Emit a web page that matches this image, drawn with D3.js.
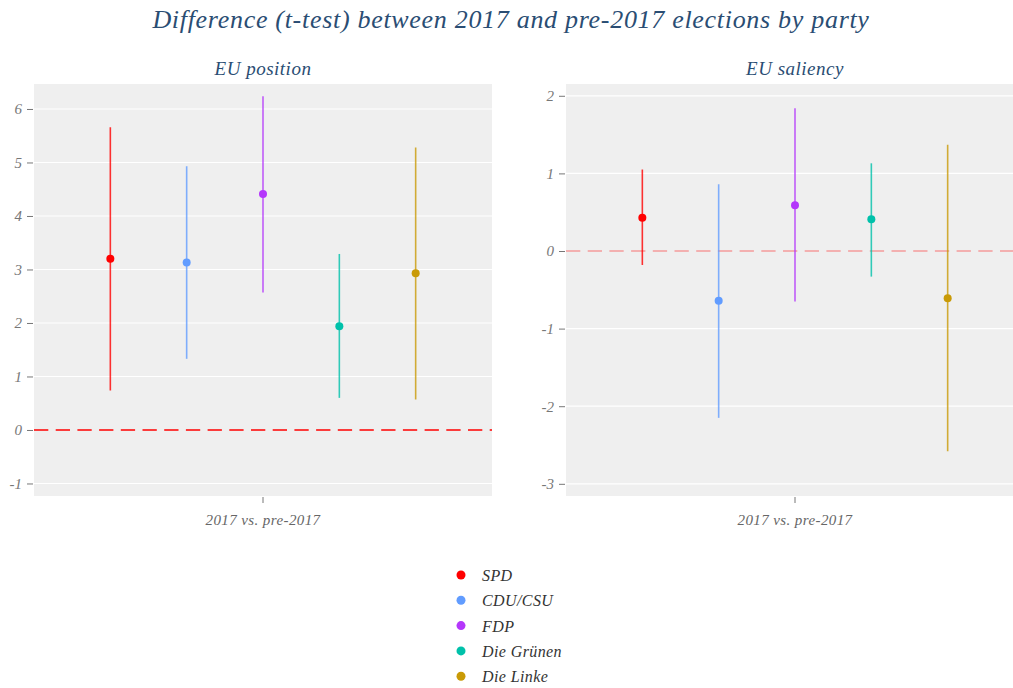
<!DOCTYPE html>
<html>
<head>
<meta charset="utf-8">
<script src="https://cdn.jsdelivr.net/npm/d3@7"></script>
<style>
  html, body { margin: 0; padding: 0; background: #fff; }
  svg { display: block; }
  text { font-family: "Liberation Serif", "DejaVu Serif", serif; font-style: italic; }
</style>
</head>
<body>
<script>
// Parties and their colours
const parties = ["SPD", "CDU/CSU", "FDP", "Die Grünen", "Die Linke"];
const partyColors = ["#ff0000", "#619cff", "#b437fb", "#00c1aa", "#c99a06"];

// EU position: mean difference with 95% confidence interval
const posMean = [3.20, 3.13, 4.41, 1.94, 2.93];
const posLow  = [0.74, 1.33, 2.57, 0.60, 0.57];
const posHigh = [5.66, 4.93, 6.24, 3.29, 5.28];

// EU saliency: mean difference with 95% confidence interval
const salMean = [0.43, -0.64, 0.59, 0.41, -0.61];
const salLow  = [-0.18, -2.15, -0.65, -0.33, -2.58];
const salHigh = [1.05, 0.86, 1.84, 1.13, 1.37];

const posTicks = [-1, 0, 1, 2, 3, 4, 5, 6];
const salTicks = [-3, -2, -1, 0, 1, 2];
const xLabel = "2017 vs. pre-2017";

const W = 1013, H = 688;
const svg = d3.select("body").append("svg").attr("width", W).attr("height", H);

svg.append("text")
  .attr("x", 511).attr("y", 28)
  .attr("text-anchor", "middle")
  .attr("font-size", 26)
  .attr("letter-spacing", 0.7)
  .attr("fill", "#2a4d73")
  .text("Difference (t-test) between 2017 and pre-2017 elections by party");

// integer ticks with a plain hyphen for negatives
const intFmt = d => String(d);

function panel(opts) {
  const { left, width, top, height, domain, ticks, mean, low, high, title, zeroOpacity } = opts;
  const g = svg.append("g");

  const y = d3.scaleLinear().domain(domain).range([top + height, top]);
  const x = d3.scalePoint().domain(parties).range([left, left + width]).padding(1);

  g.append("rect")
    .attr("x", left).attr("y", top).attr("width", width).attr("height", height)
    .attr("fill", "#efefef");

  // grid
  g.append("g").selectAll("line").data(ticks.filter(t => t !== 0)).join("line")
    .attr("x1", left).attr("x2", left + width)
    .attr("y1", d => y(d)).attr("y2", d => y(d))
    .attr("stroke", "#ffffff").attr("stroke-width", 1.2);

  // y axis
  const yAxis = d3.axisLeft(y).tickValues(ticks).tickSize(6).tickPadding(5)
    .tickFormat(intFmt);
  const ya = g.append("g").attr("transform", `translate(${left - 1},0)`).call(yAxis);
  ya.select(".domain").remove();
  ya.selectAll(".tick line").attr("stroke", "#777").attr("stroke-width", 1);
  ya.selectAll(".tick text")
    .attr("fill", "#777").attr("font-size", 15)
    .attr("font-family", "Liberation Serif, serif").attr("font-style", "italic");

  // x axis: single tick at the panel centre
  const cx = left + width / 2;
  g.append("line")
    .attr("x1", cx).attr("x2", cx).attr("y1", top + height + 1).attr("y2", top + height + 7)
    .attr("stroke", "#777");
  g.append("text")
    .attr("x", cx).attr("y", top + height + 29)
    .attr("text-anchor", "middle").attr("font-size", 15).attr("letter-spacing", 0.4)
    .attr("fill", "#666")
    .text(xLabel);

  // panel title
  g.append("text")
    .attr("x", cx).attr("y", top - 9)
    .attr("text-anchor", "middle").attr("font-size", 19).attr("letter-spacing", 0.5)
    .attr("fill", "#2a4d73")
    .text(title);

  // zero reference line
  g.append("line")
    .attr("x1", left).attr("x2", left + width)
    .attr("y1", y(0)).attr("y2", y(0))
    .attr("stroke", "#ff0000")
    .attr("stroke-opacity", zeroOpacity)
    .attr("stroke-width", 1.6)
    .attr("stroke-dasharray", "14.3,7.4");

  // confidence intervals
  g.append("g").selectAll("line").data(parties).join("line")
    .attr("x1", d => x(d)).attr("x2", d => x(d))
    .attr("y1", (d, i) => y(low[i])).attr("y2", (d, i) => y(high[i]))
    .attr("stroke", (d, i) => partyColors[i])
    .attr("stroke-opacity", 0.8)
    .attr("stroke-width", 1.6);

  // means
  g.append("g").selectAll("circle").data(parties).join("circle")
    .attr("cx", d => x(d)).attr("cy", (d, i) => y(mean[i]))
    .attr("r", 4)
    .attr("fill", (d, i) => partyColors[i]);
}

panel({
  left: 34, width: 458, top: 84, height: 412,
  domain: [-1.234, 6.467], ticks: posTicks,
  mean: posMean, low: posLow, high: posHigh,
  title: "EU position", zeroOpacity: 1
});

panel({
  left: 566, width: 458, top: 84, height: 412,
  domain: [-3.157, 2.152], ticks: salTicks,
  mean: salMean, low: salLow, high: salHigh,
  title: "EU saliency", zeroOpacity: 0.35
});

// legend
const legend = svg.append("g").attr("transform", "translate(461,575)");
const item = legend.selectAll("g").data(parties).join("g")
  .attr("transform", (d, i) => `translate(0,${i * 25.3})`);
item.append("circle").attr("r", 4.5).attr("fill", (d, i) => partyColors[i]);
item.append("text")
  .attr("x", 21).attr("y", 6)
  .attr("font-size", 16).attr("letter-spacing", 0.4)
  .attr("fill", "#333")
  .text(d => d);
</script>
</body>
</html>
